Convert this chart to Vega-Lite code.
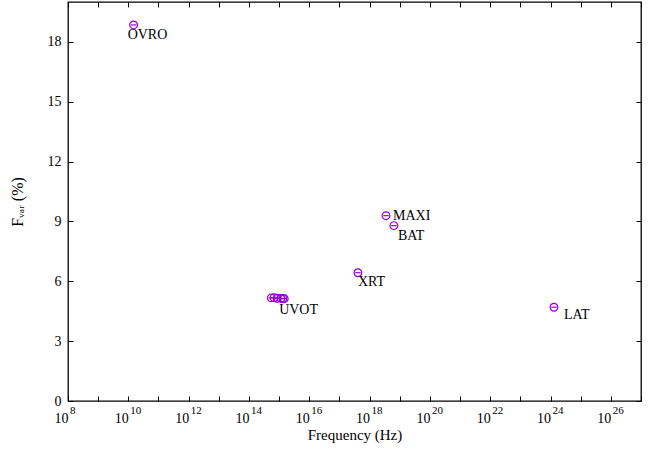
{
  "$schema": "https://vega.github.io/schema/vega-lite/v6.json",
  "width": 573,
  "height": 399,
  "autosize": "none",
  "padding": {"left": 68, "top": 2, "right": 18, "bottom": 49},
  "background": "white",
  "config": {
    "view": {"stroke": "black", "strokeWidth": 1.3},
    "font": "Liberation Serif",
    "axis": {
      "grid": false,
      "domain": false,
      "tickColor": "black",
      "tickSize": -5,
      "tickWidth": 1,
      "labelColor": "black",
      "labelFont": "Liberation Serif",
      "labelFontSize": 14,
      "titleFont": "Liberation Serif",
      "titleFontSize": 15,
      "titleFontWeight": "normal",
      "titleColor": "black"
    }
  },
  "datasets": {
    "pts": [
      {"instrument": "OVRO", "freq": 1.5e10, "fvar": 18.85},
      {"instrument": "UVOT", "freq": 5.5e14, "fvar": 5.17},
      {"instrument": "UVOT", "freq": 6.8e14, "fvar": 5.18},
      {"instrument": "UVOT", "freq": 8.6e14, "fvar": 5.15},
      {"instrument": "UVOT", "freq": 1.15e15, "fvar": 5.14},
      {"instrument": "UVOT", "freq": 1.34e15, "fvar": 5.14},
      {"instrument": "UVOT", "freq": 1.48e15, "fvar": 5.13},
      {"instrument": "XRT", "freq": 4.1e17, "fvar": 6.43},
      {"instrument": "MAXI", "freq": 3.5e18, "fvar": 9.29},
      {"instrument": "BAT", "freq": 6.4e18, "fvar": 8.79},
      {"instrument": "LAT", "freq": 1.3e24, "fvar": 4.7}
    ],
    "labels": [
      {"label": "OVRO", "freq": 1.5e10, "fvar": 18.85},
      {"label": "UVOT", "freq": 8.6e14, "fvar": 5.15},
      {"label": "XRT", "freq": 4.1e17, "fvar": 6.43},
      {"label": "MAXI", "freq": 3.5e18, "fvar": 9.29},
      {"label": "BAT", "freq": 6.4e18, "fvar": 8.79},
      {"label": "LAT", "freq": 1.3e24, "fvar": 4.7}
    ],
    "exponents": [
      {"tick": 1e8, "exp": "8"},
      {"tick": 1e10, "exp": "10"},
      {"tick": 1e12, "exp": "12"},
      {"tick": 1e14, "exp": "14"},
      {"tick": 1e16, "exp": "16"},
      {"tick": 1e18, "exp": "18"},
      {"tick": 1e20, "exp": "20"},
      {"tick": 1e22, "exp": "22"},
      {"tick": 1e24, "exp": "24"},
      {"tick": 1e26, "exp": "26"}
    ]
  },
  "resolve": {"axis": {"x": "independent", "y": "independent"}},
  "layer": [
    {
      "data": {"name": "pts"},
      "mark": {"type": "point", "shape": "circle", "filled": false, "color": "#9400d3", "strokeWidth": 1.2, "size": 60, "opacity": 1},
      "encoding": {
        "x": {
          "field": "freq", "type": "quantitative",
          "scale": {"type": "log", "domain": [1e8, 1e27], "nice": false},
          "axis": {
            "orient": "bottom",
            "title": "Frequency (Hz)",
            "titlePadding": 2,
            "labelPadding": 15,
            "labelAlign": "right",
            "labelBaseline": "top",
            "labelDx": 2,
            "values": [1e8,1e9,1e10,1e11,1e12,1e13,1e14,1e15,1e16,1e17,1e18,1e19,1e20,1e21,1e22,1e23,1e24,1e25,1e26,1e27],
            "labelExpr": "round(log(datum.value)/LN10) % 2 == 0 && round(log(datum.value)/LN10) < 27 ? '10' : ''",
            "labelFlush": false,
            "labelOverlap": false
          }
        },
        "y": {
          "field": "fvar", "type": "quantitative",
          "scale": {"domain": [0, 20], "nice": false, "zero": true},
          "axis": {
            "orient": "left",
            "title": "Fᵥₐᵣ (%)",
            "titleFontSize": 16,
            "titlePadding": 22,
            "labelPadding": 12,
            "values": [0, 3, 6, 9, 12, 15, 18],
            "labelFlush": false
          }
        }
      }
    },
    {
      "data": {"name": "pts"},
      "mark": {"type": "point", "shape": "M-1,0L1,0", "filled": false, "color": "#9400d3", "strokeWidth": 1.2, "size": 30, "opacity": 1},
      "encoding": {
        "x": {
          "field": "freq", "type": "quantitative",
          "scale": {"type": "log", "domain": [1e8, 1e27], "nice": false},
          "axis": {
            "orient": "top", "title": null, "labels": false,
            "values": [1e8,1e9,1e10,1e11,1e12,1e13,1e14,1e15,1e16,1e17,1e18,1e19,1e20,1e21,1e22,1e23,1e24,1e25,1e26,1e27]
          }
        },
        "y": {
          "field": "fvar", "type": "quantitative",
          "scale": {"domain": [0, 20], "nice": false, "zero": true},
          "axis": {"orient": "right", "title": null, "labels": false, "values": [0, 3, 6, 9, 12, 15, 18]}
        }
      }
    },
    {
      "data": {"name": "exponents"},
      "mark": {"type": "text", "align": "left", "baseline": "middle", "dx": 2, "dy": 10, "fontSize": 11, "font": "Liberation Serif", "color": "black"},
      "encoding": {
        "x": {"field": "tick", "type": "quantitative", "scale": {"type": "log", "domain": [1e8, 1e27], "nice": false}, "axis": null},
        "y": {"datum": 0, "type": "quantitative", "scale": {"domain": [0, 20], "nice": false}, "axis": null},
        "text": {"field": "exp"}
      }
    },
    {
      "data": {"name": "labels"},
      "transform": [{"filter": "datum.label == 'OVRO'"}],
      "mark": {"type": "text", "align": "left", "baseline": "middle", "dx": -6, "dy": 10, "fontSize": 14, "font": "Liberation Serif", "color": "black"},
      "encoding": {
        "x": {"field": "freq", "type": "quantitative", "scale": {"type": "log", "domain": [1e8, 1e27], "nice": false}, "axis": null},
        "y": {"field": "fvar", "type": "quantitative", "scale": {"domain": [0, 20], "nice": false}, "axis": null},
        "text": {"field": "label"}
      }
    },
    {
      "data": {"name": "labels"},
      "transform": [{"filter": "datum.label == 'MAXI'"}],
      "mark": {"type": "text", "align": "left", "baseline": "middle", "dx": 7, "dy": 0, "fontSize": 14, "font": "Liberation Serif", "color": "black"},
      "encoding": {
        "x": {"field": "freq", "type": "quantitative", "scale": {"type": "log", "domain": [1e8, 1e27], "nice": false}, "axis": null},
        "y": {"field": "fvar", "type": "quantitative", "scale": {"domain": [0, 20], "nice": false}, "axis": null},
        "text": {"field": "label"}
      }
    },
    {
      "data": {"name": "labels"},
      "transform": [{"filter": "datum.label == 'BAT'"}],
      "mark": {"type": "text", "align": "left", "baseline": "middle", "dx": 4, "dy": 10, "fontSize": 14, "font": "Liberation Serif", "color": "black"},
      "encoding": {
        "x": {"field": "freq", "type": "quantitative", "scale": {"type": "log", "domain": [1e8, 1e27], "nice": false}, "axis": null},
        "y": {"field": "fvar", "type": "quantitative", "scale": {"domain": [0, 20], "nice": false}, "axis": null},
        "text": {"field": "label"}
      }
    },
    {
      "data": {"name": "labels"},
      "transform": [{"filter": "datum.label == 'XRT'"}],
      "mark": {"type": "text", "align": "left", "baseline": "middle", "dx": 0, "dy": 9, "fontSize": 14, "font": "Liberation Serif", "color": "black"},
      "encoding": {
        "x": {"field": "freq", "type": "quantitative", "scale": {"type": "log", "domain": [1e8, 1e27], "nice": false}, "axis": null},
        "y": {"field": "fvar", "type": "quantitative", "scale": {"domain": [0, 20], "nice": false}, "axis": null},
        "text": {"field": "label"}
      }
    },
    {
      "data": {"name": "labels"},
      "transform": [{"filter": "datum.label == 'UVOT'"}],
      "mark": {"type": "text", "align": "left", "baseline": "middle", "dx": 2, "dy": 12, "fontSize": 14, "font": "Liberation Serif", "color": "black"},
      "encoding": {
        "x": {"field": "freq", "type": "quantitative", "scale": {"type": "log", "domain": [1e8, 1e27], "nice": false}, "axis": null},
        "y": {"field": "fvar", "type": "quantitative", "scale": {"domain": [0, 20], "nice": false}, "axis": null},
        "text": {"field": "label"}
      }
    },
    {
      "data": {"name": "labels"},
      "transform": [{"filter": "datum.label == 'LAT'"}],
      "mark": {"type": "text", "align": "left", "baseline": "middle", "dx": 10, "dy": 8, "fontSize": 14, "font": "Liberation Serif", "color": "black"},
      "encoding": {
        "x": {"field": "freq", "type": "quantitative", "scale": {"type": "log", "domain": [1e8, 1e27], "nice": false}, "axis": null},
        "y": {"field": "fvar", "type": "quantitative", "scale": {"domain": [0, 20], "nice": false}, "axis": null},
        "text": {"field": "label"}
      }
    }
  ]
}
